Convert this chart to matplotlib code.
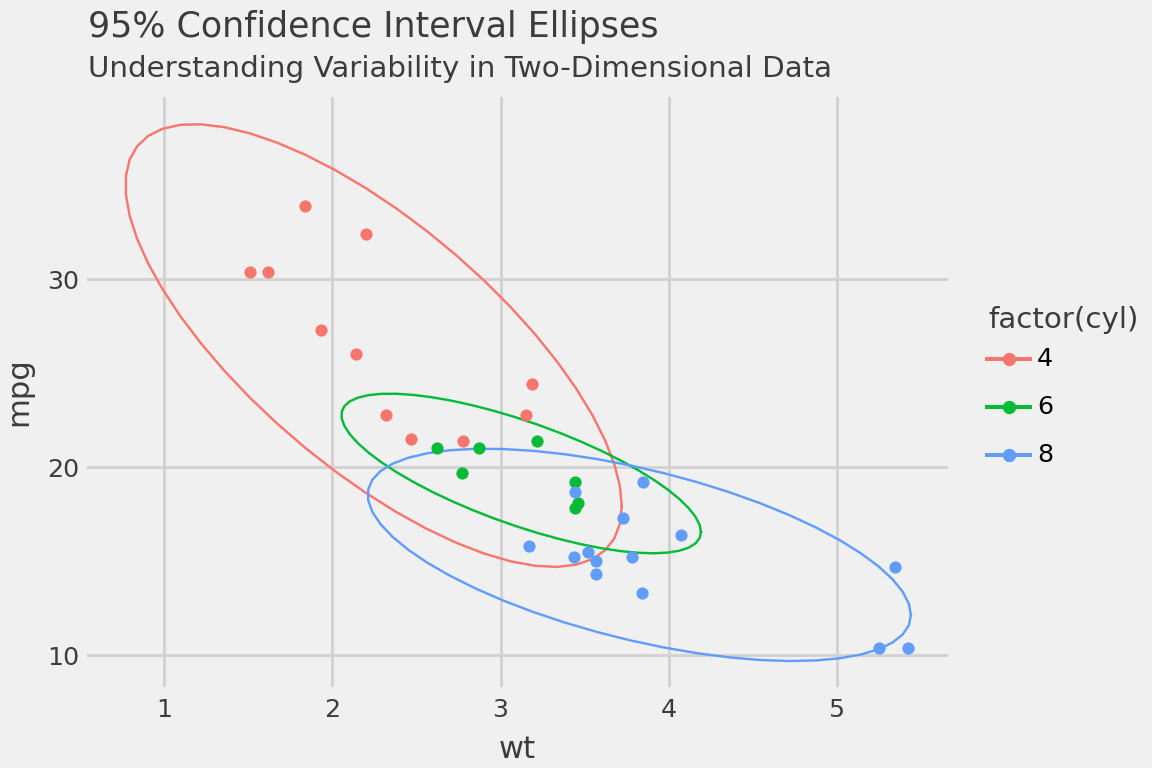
import numpy as np
import matplotlib
matplotlib.use("Agg")
import matplotlib.pyplot as plt
from matplotlib.lines import Line2D

# mtcars: weight, mpg, cylinders
wt = [2.620, 2.875, 2.320, 3.215, 3.440, 3.460, 3.570, 3.190, 3.150, 3.440, 3.440,
      4.070, 3.730, 3.780, 5.250, 5.424, 5.345, 2.200, 1.615, 1.835, 2.465, 3.520,
      3.435, 3.840, 3.845, 1.935, 2.140, 1.513, 3.170, 2.770, 3.570, 2.780]
mpg = [21.0, 21.0, 22.8, 21.4, 18.7, 18.1, 14.3, 24.4, 22.8, 19.2, 17.8,
       16.4, 17.3, 15.2, 10.4, 10.4, 14.7, 32.4, 30.4, 33.9, 21.5, 15.5,
       15.2, 13.3, 19.2, 27.3, 26.0, 30.4, 15.8, 19.7, 15.0, 21.4]
cyl = [6, 6, 4, 6, 8, 6, 8, 4, 4, 6, 6, 8, 8, 8, 8, 8, 8, 4, 4, 4, 4, 8,
       8, 8, 8, 4, 4, 4, 8, 6, 8, 4]
groups = [4, 6, 8]
colors = {4: "#F8766D", 6: "#00BA38", 8: "#619CFF"}

BG = "#F0F0F0"
GRID = "#D2D2D2"
TXT = "#3C3C3C"


def cov_trob(x, nu=5, maxit=25, tol=0.01):
    # robust multivariate t estimate (as MASS::cov.trob)
    n, p = x.shape
    loc = x.mean(axis=0)
    w = np.ones(n)
    for _ in range(maxit):
        w0 = w
        X = x - loc
        _, d, vt = np.linalg.svd(np.sqrt(w / w.sum())[:, None] * X, full_matrices=False)
        wX = X @ vt.T @ np.diag(1 / d)
        Q = (wX ** 2).sum(axis=1)
        w = (nu + p) / (nu + Q)
        loc = (w[:, None] * x).sum(axis=0) / w.sum()
        if np.all(np.abs(w - w0) < tol):
            break
    cov = (np.sqrt(w)[:, None] * X).T @ (np.sqrt(w)[:, None] * X) / n
    return loc, cov


def ellipse(x, level=0.95, segments=51):
    loc, shape = cov_trob(x)
    n = x.shape[0]
    dfd = n - 1
    # qf(level, 2, dfd) closed form
    fq = dfd / 2 * ((1 - level) ** (-2 / dfd) - 1)
    radius = np.sqrt(2 * fq)
    chol = np.linalg.cholesky(shape).T  # upper triangular like R chol
    ang = np.arange(segments + 1) * 2 * np.pi / segments
    circ = np.column_stack([np.cos(ang), np.sin(ang)])
    return loc + radius * (circ @ chol)


wt_a = np.array(wt)
mpg_a = np.array(mpg)
cyl_a = np.array(cyl)

W, H = 1152, 768
fig = plt.figure(figsize=(6, 4), dpi=192, facecolor=BG)
# panel: x 87..948 px, y 97..687 px
ax = fig.add_axes([87 / W, 1 - 687 / H, 861 / W, 590 / H], facecolor=BG)

for g in groups:
    m = cyl_a == g
    pts = np.column_stack([wt_a[m], mpg_a[m]])
    e = ellipse(pts)
    ax.plot(e[:, 0], e[:, 1], color=colors[g], lw=0.9, zorder=3)
    ax.scatter(wt_a[m], mpg_a[m], s=21, color=colors[g], lw=0, zorder=4)

ax.set_xlim(0.542, 5.66)
ax.set_ylim(8.30, 39.7)
ax.set_xticks([1, 2, 3, 4, 5])
ax.set_yticks([10, 20, 30])
ax.grid(True, color=GRID, lw=1.1)
ax.set_axisbelow(True)
for s in ax.spines.values():
    s.set_visible(False)
ax.tick_params(length=0, labelsize=9.5, colors=TXT)
ax.tick_params(axis="x", pad=4)
ax.tick_params(axis="y", pad=3)
ax.set_xlabel("wt", fontsize=11.5, color=TXT, labelpad=5)
ax.set_ylabel("mpg", fontsize=11.5, color=TXT, labelpad=5)

fig.text(88 / W, 1 - 27 / H, "95% Confidence Interval Ellipses", fontsize=13.1,
         color=TXT, ha="left", va="center")
fig.text(88 / W, 1 - 69 / H, "Understanding Variability in Two-Dimensional Data",
         fontsize=11, color=TXT, ha="left", va="center")

# legend drawn by hand to match the key spacing
fig.text(988 / W, 1 - 320 / H, "factor(cyl)", fontsize=11, color=TXT,
         ha="left", va="center")
for i, g in enumerate(groups):
    yk = 1 - (359 + 48 * i) / H
    fig.add_artist(Line2D([987 / W, 1030 / W], [yk, yk], color=colors[g], lw=1.5,
                          transform=fig.transFigure))
    fig.add_artist(Line2D([1008.5 / W], [yk], color=colors[g], marker="o",
                          markersize=4, lw=0, transform=fig.transFigure))
    fig.text(1037 / W, yk, str(g), fontsize=9.5, color="black", ha="left",
             va="center")

fig.savefig("out.png", dpi=192, facecolor=BG)
